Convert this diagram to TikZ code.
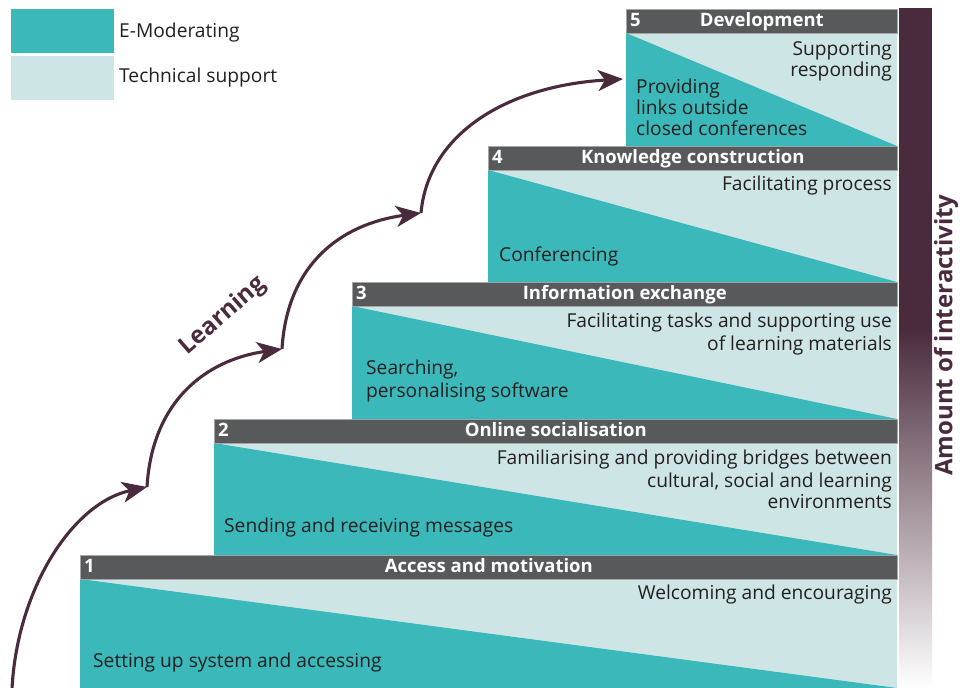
\documentclass[tikz,border=0pt]{standalone}
\usepackage{fontspec}
\setmainfont{Open Sans}
\usetikzlibrary{arrows.meta}
\definecolor{emod}{HTML}{3BB8BA}
\definecolor{techbg}{HTML}{CDE6E5}
\definecolor{hdrgrey}{HTML}{58595B}
\definecolor{plum}{HTML}{4A2B3D}
\definecolor{txt}{HTML}{231F20}
\tikzset{
  bodytxt/.style={inner sep=0pt, text=txt, font=\fontsize{19.2}{22}\selectfont},
  hdrbar/.style={fill=hdrgrey, draw=gray!70, line width=0.6pt, inner sep=0pt, anchor=north west, minimum height=24pt},
  hdrtxt/.style={inner sep=0pt, text=white, font=\bfseries\fontsize{18.5}{21}\selectfont, text height=13pt, text depth=3.5pt},
  legtxt/.style={inner sep=0pt, text=txt, font=\fontsize{19.2}{22}\selectfont, anchor=base west},
  learnarrow/.style={draw=plum, line width=3.1pt, -{Stealth[length=25pt, width=21pt, inset=7pt]}},
  biglabel/.style={inner sep=0pt, text=plum, font=\bfseries\fontsize{24}{28}\selectfont}
}
\newcommand\drawstage[6]{%
  % #1 name, #2 left x, #3 header top y, #4 body bottom y, #5 number, #6 title
  \fill[techbg] (#2,#3+24) rectangle (897,#4);
  \fill[emod] (#2,#3+24) -- (#2,#4) -- (897,#4) -- cycle;
  \node[hdrbar, minimum width={(897-#2)*1pt}] (#1h) at (#2,#3) {};
  \node[hdrtxt] (#1t) at (#1h.center) {#6};
  \node[hdrtxt, anchor=west] (#1n) at ([xshift=4pt]#1h.west) {#5};
}
\begin{document}
\begin{tikzpicture}[x=1pt,y=-1pt]
\useasboundingbox (0,0) rectangle (967,688);
\fill[white] (0,0) rectangle (967,688);

% legend
\node[fill=emod, minimum width=103pt, minimum height=44pt, inner sep=0pt, anchor=north west] (legA) at (11,9) {};
\node[fill=techbg, minimum width=103pt, minimum height=44pt, inner sep=0pt, anchor=north west] (legB) at (11,56) {};
\node[legtxt] (legAt) at (119,37) {E-Moderating};
\node[legtxt] (legBt) at (119,82) {Technical support};

% interactivity bar
\fill[plum] (899,8) rectangle (932,330);
\shade[top color=plum, bottom color=white] (899,329.5) rectangle (932,688);
\node[biglabel, rotate=90] (amount) at (946,335) {Amount of interactivity};

% stages
\drawstage{s1}{80}{555}{688}{1}{Access and motivation}
\drawstage{s2}{214}{419}{555}{2}{Online socialisation}
\drawstage{s3}{352}{282}{419}{3}{Information exchange}
\drawstage{s4}{488}{146}{282}{4}{Knowledge construction}
\drawstage{s5}{626}{9}{146}{5}{Development}

% stage texts
\node[bodytxt, anchor=base east] (t5a) at (892,55) {Supporting};
\node[bodytxt, anchor=base east] (t5b) at (892,76) {responding};
\node[bodytxt, anchor=base west] (t5c) at (636,93) {Providing};
\node[bodytxt, anchor=base west] (t5d) at (636,114) {links outside};
\node[bodytxt, anchor=base west] (t5e) at (636,135) {closed conferences};

\node[bodytxt, anchor=base east] (t4a) at (892,190) {Facilitating process};
\node[bodytxt, anchor=base west] (t4b) at (499,261) {Conferencing};

\node[bodytxt, anchor=base east] (t3a) at (892,327) {Facilitating tasks and supporting use};
\node[bodytxt, anchor=base east] (t3b) at (892,350) {of learning materials};
\node[bodytxt, anchor=base west] (t3c) at (366,374) {Searching,};
\node[bodytxt, anchor=base west] (t3d) at (366,397) {personalising software};

\node[bodytxt, anchor=base east] (t2a) at (892,464) {Familiarising and providing bridges between};
\node[bodytxt, anchor=base east] (t2b) at (892,487) {cultural, social and learning};
\node[bodytxt, anchor=base east] (t2c) at (892,508) {environments};
\node[bodytxt, anchor=base west] (t2d) at (224,532) {Sending and receiving messages};

\node[bodytxt, anchor=base east] (t1a) at (892,599) {Welcoming and encouraging};
\node[bodytxt, anchor=base west] (t1b) at (93,667) {Setting up system and accessing};

% learning path
\coordinate (p0) at (12,689);
\coordinate (p1) at (147,487);
\coordinate (p2) at (282,349);
\coordinate (p3) at (421,213);
\coordinate (p4) at (623,79);
\draw[learnarrow] (p0) .. controls (17,590) and (72,503) .. (p1);
\draw[learnarrow] (p1) .. controls (152,402) and (205,360) .. (p2);
\draw[learnarrow] (p2) .. controls (287,265) and (340,224) .. (p3);
\draw[learnarrow] (p3) .. controls (428,135) and (505,86) .. (p4);
\node[biglabel, rotate=41] (learning) at (223,316) {Learning};
\end{tikzpicture}
\end{document}
